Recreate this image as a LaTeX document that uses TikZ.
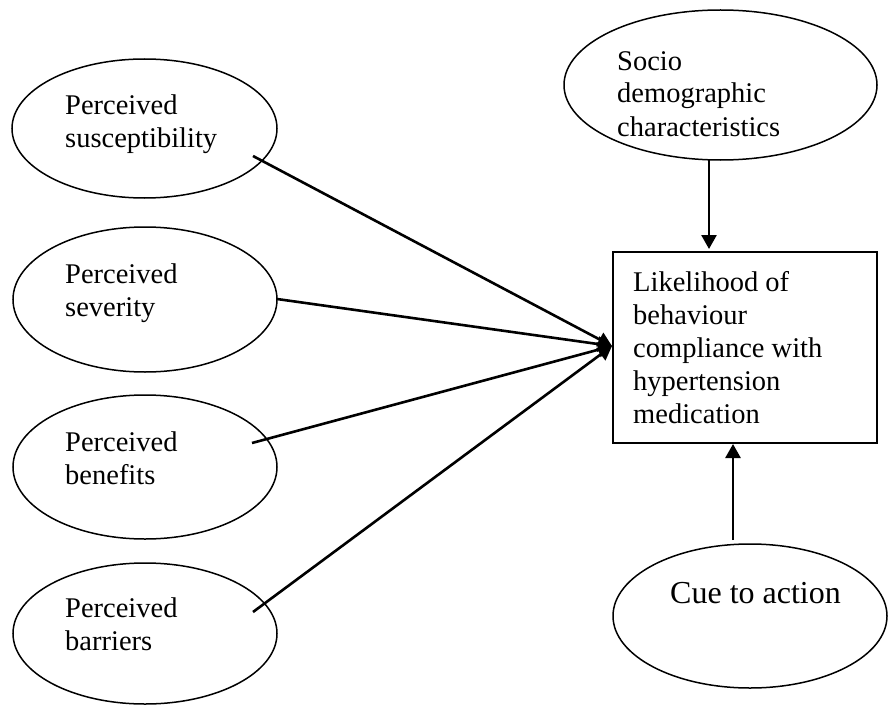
\documentclass[tikz,border=0pt]{standalone}
\usepackage{fontspec}
\setmainfont{Liberation Serif}
\usetikzlibrary{shapes.geometric,arrows.meta}
\begin{document}
\begin{tikzpicture}[x=1pt,y=-1pt,
  oval/.style={draw,ellipse,line width=1.5pt,inner sep=0pt},
  lbl/.style={anchor=base west,inner sep=0pt,align=left,font=\fontsize{28.5}{33}\selectfont},
  conn/.style={line width=2.6pt,-{Triangle[width=15pt,length=14pt]}}]
\useasboundingbox (0,0) rectangle (891,706);
% ellipses
\node[oval,minimum width=265pt,minimum height=139pt] (e1) at (144.5,128.5) {};
\node[oval,minimum width=264pt,minimum height=145pt] (e2) at (145,299.5) {};
\node[oval,minimum width=264pt,minimum height=144pt] (e3) at (145,467) {};
\node[oval,minimum width=264pt,minimum height=141pt] (e4) at (145,633.5) {};
\node[oval,minimum width=313pt,minimum height=150pt] (soc) at (720.5,85) {};
\node[oval,minimum width=274pt,minimum height=144pt] (cue) at (750,616) {};
% box
\node[draw,line width=1.5pt,rectangle,minimum width=264pt,minimum height=191pt,inner sep=0pt] (box) at (745,347.5) {};
% texts (anchored at the baseline of their last line)
\node[lbl] (t1) at (65,147) {Perceived\\susceptibility};
\node[lbl] (t2) at (65,316) {Perceived\\severity};
\node[lbl] (t3) at (65,484) {Perceived\\benefits};
\node[lbl] (t4) at (65,650) {Perceived\\barriers};
\node[lbl] (ts) at (617,136) {Socio\\demographic\\characteristics};
\node[lbl] (tb) at (633,423) {Likelihood of\\behaviour\\compliance with\\hypertension\\medication};
\node[anchor=base west,inner sep=0pt,font=\fontsize{32}{36}\selectfont] (tc) at (670,603) {Cue to action};
% connector endpoints
\coordinate (c1) at (253,156);
\coordinate (c2) at (277,299);
\coordinate (c3) at (252,443);
\coordinate (c4) at (253,612);
\coordinate (tip) at (612,346);
\coordinate (sa) at (709,160);
\coordinate (sb) at (709,249);
\coordinate (ca) at (733,540);
\coordinate (cb) at (733,444);
\draw[conn] (c1) -- (tip);
\draw[conn] (c2) -- (tip);
\draw[conn] (c3) -- (tip);
\draw[conn] (c4) -- (tip);
\draw[conn] (sa) -- (sb);
\draw[conn] (ca) -- (cb);
\end{tikzpicture}
\end{document}
